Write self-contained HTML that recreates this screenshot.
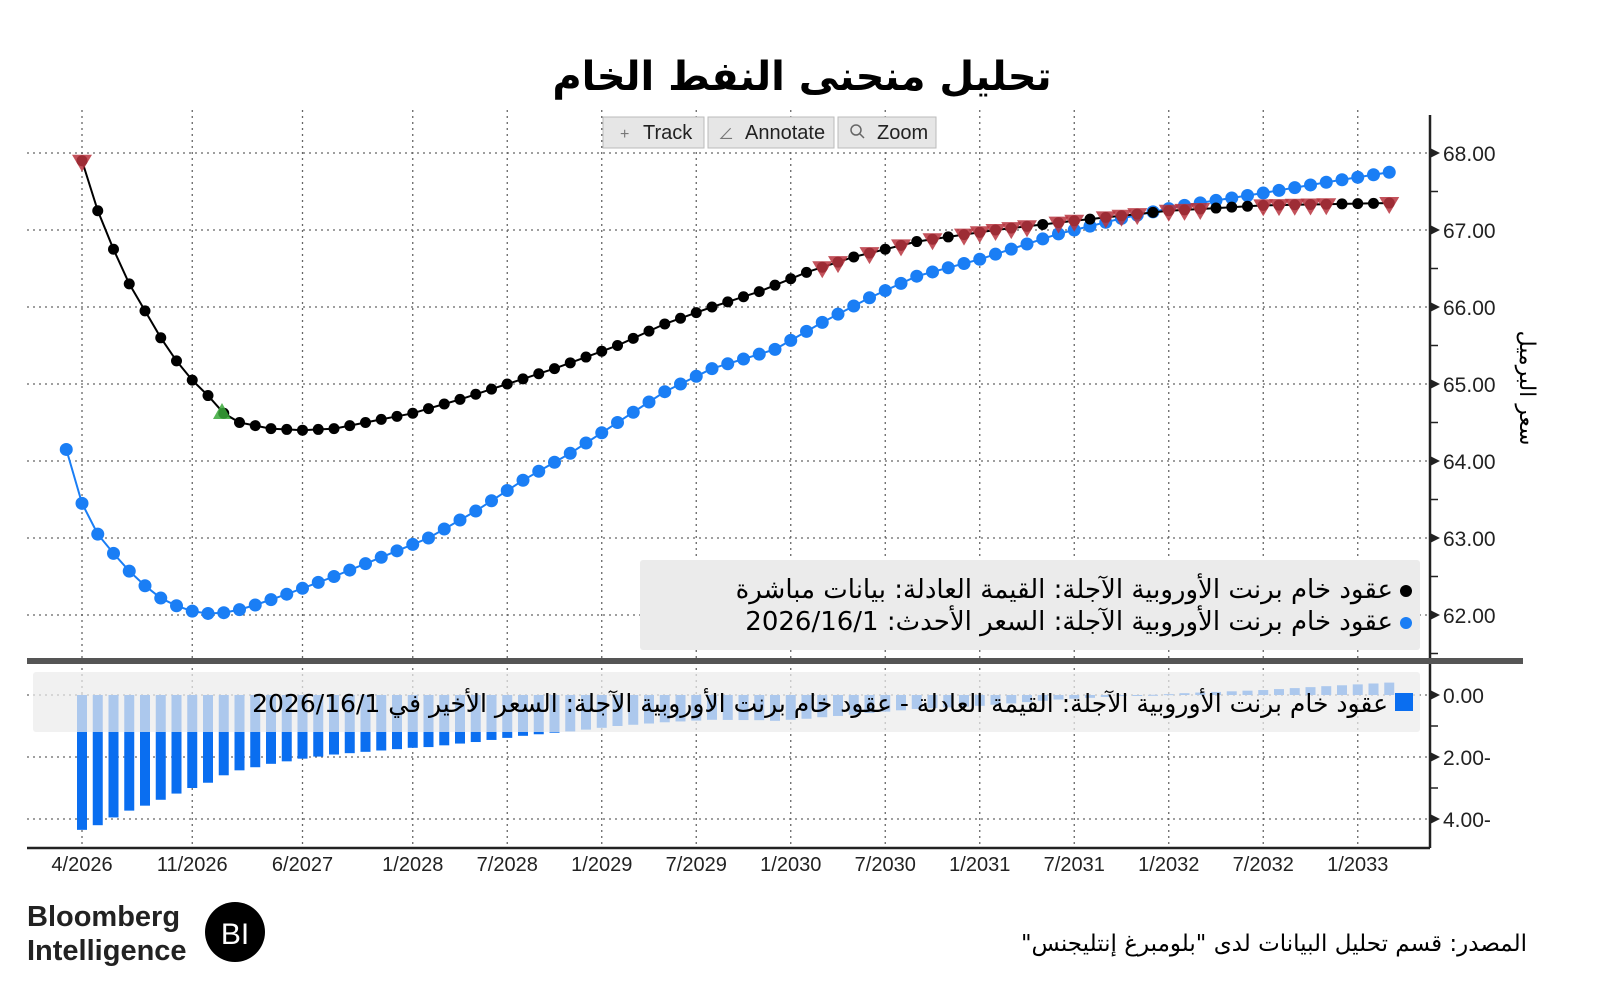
<!DOCTYPE html>
<html><head><meta charset="utf-8">
<style>
html,body{margin:0;padding:0;background:#fff;}
body{width:1600px;height:995px;overflow:hidden;}
svg text{font-family:"Liberation Sans","Noto Sans CJK SC",sans-serif;}
.ar{font-family:"DejaVu Sans","Noto Sans CJK SC",sans-serif;}
</style></head><body>
<svg id="s" width="1600" height="995" xmlns="http://www.w3.org/2000/svg">
<rect width="1600" height="995" fill="#fff"/>
<text x="802" y="90" text-anchor="middle" font-size="40" font-weight="bold" class="ar" direction="rtl">تحليل منحنى النفط الخام</text>
<g id="grid"></g>
<g id="bars"></g>
<!-- bottom legend -->
<rect x="33" y="672" width="1387" height="60" fill="#ebebeb" fill-opacity="0.72" rx="3"/>
<rect x="1395" y="693" width="18" height="18" fill="#0a6ef0"/>
<text x="1388" y="712" text-anchor="start" font-size="25" class="ar" direction="rtl">عقود خام برنت الأوروبية الآجلة: القيمة العادلة - عقود خام برنت الأوروبية الآجلة: السعر الأخير في 2026/16/1</text>
<g id="lines"></g>
<!-- top legend -->
<rect x="640" y="560" width="780" height="90" fill="#ebebeb" rx="3"/>
<circle cx="1406" cy="591" r="6" fill="#000"/>
<circle cx="1406" cy="623" r="6" fill="#1a7ef5"/>
<text x="1393" y="598" text-anchor="start" font-size="26" class="ar" direction="rtl">عقود خام برنت الأوروبية الآجلة: القيمة العادلة: بيانات مباشرة</text>
<text x="1393" y="630" text-anchor="start" font-size="26" class="ar" direction="rtl">عقود خام برنت الأوروبية الآجلة: السعر الأحدث: 2026/16/1</text>
<!-- toolbar -->
<g font-size="20" fill="#222">
<rect x="603" y="117" width="101" height="31" fill="#e6e6e6" stroke="#bbb"/>
<text x="620" y="139" font-size="16" fill="#777">+</text><text x="643" y="139">Track</text>
<rect x="708" y="117" width="126" height="31" fill="#e6e6e6" stroke="#bbb"/>
<text x="718" y="139" font-size="16" fill="#777">∠</text><text x="745" y="139">Annotate</text>
<rect x="838" y="117" width="98" height="31" fill="#e6e6e6" stroke="#bbb"/>
<circle cx="856" cy="130" r="5" fill="none" stroke="#666" stroke-width="1.5"/><line x1="860" y1="134" x2="864" y2="138" stroke="#666" stroke-width="1.5"/>
<text x="877" y="139">Zoom</text>
</g>
<!-- axes -->
<line x1="1430" y1="115" x2="1430" y2="848" stroke="#222" stroke-width="2.5"/>
<line x1="27" y1="848" x2="1430" y2="848" stroke="#222" stroke-width="2.5"/>
<rect x="27" y="658" width="1496" height="6" fill="#555"/>
<g id="ticks"></g>
<text transform="translate(1520,388) rotate(90)" text-anchor="middle" font-size="22" class="ar" direction="rtl">سعر البرميل</text>
<!-- footer -->
<text x="27" y="926" font-size="29" font-weight="bold" fill="#222">Bloomberg</text>
<text x="27" y="960" font-size="29" font-weight="bold" fill="#222">Intelligence</text>
<circle cx="235" cy="932" r="30" fill="#000"/>
<text x="235" y="944" text-anchor="middle" font-size="30" fill="#fff" font-family="Liberation Serif">BI</text>
<text x="1527" y="951" text-anchor="start" font-size="23" class="ar" direction="rtl">المصدر: قسم تحليل البيانات لدى "بلومبرغ إنتليجنس"</text>
</svg>
<script>
const NS="http://www.w3.org/2000/svg";
function el(p,t,a){const e=document.createElementNS(NS,t);for(const k in a)e.setAttribute(k,a[k]);document.getElementById(p).appendChild(e);return e;}
const X=m=>82+m*15.75, Y=v=>153+(68-v)*77, YB=v=>695-v*31;
const lab=[["4/2026",0],["11/2026",7],["6/2027",14],["1/2028",21],["7/2028",27],["1/2029",33],["7/2029",39],["1/2030",45],["7/2030",51],["1/2031",57],["7/2031",63],["1/2032",69],["7/2032",75],["1/2033",81]];
lab.forEach(([t,m])=>{const x=X(m);
 el("grid","line",{x1:x,y1:110,x2:x,y2:848,stroke:"#666","stroke-dasharray":"2 4","stroke-width":1.3});
 const tx=el("ticks","text",{x:x,y:871,"text-anchor":"middle","font-size":20,fill:"#222"});tx.textContent=t;});
for(let v=62;v<=68;v++){const y=Y(v);
 el("grid","line",{x1:27,y1:y,x2:1430,y2:y,stroke:"#666","stroke-dasharray":"2 4","stroke-width":1.3});
 el("ticks","path",{d:`M1430 ${y-5}L1440 ${y}L1430 ${y+5}Z`,fill:"#222"});
 const t=el("ticks","text",{x:1443,y:y+8,"font-size":21,fill:"#222"});t.textContent=v+".00";
 el("ticks","line",{x1:1430,y1:y+38.5,x2:1438,y2:y+38.5,stroke:"#222","stroke-width":1.5});}
[[0,"0.00"],[-2,"2.00-"],[-4,"4.00-"]].forEach(([v,s])=>{const y=YB(v);
 el("grid","line",{x1:27,y1:y,x2:1430,y2:y,stroke:"#666","stroke-dasharray":"2 4","stroke-width":1.3});
 el("ticks","path",{d:`M1430 ${y-5}L1440 ${y}L1430 ${y+5}Z`,fill:"#222"});
 const t=el("ticks","text",{x:1443,y:y+8,"font-size":21,fill:"#222"});t.textContent=s;
 if(v>-4)el("ticks","line",{x1:1430,y1:y+31,x2:1438,y2:y+31,stroke:"#222","stroke-width":1.5});});
function interp(k,m){for(let i=0;i<k.length-1;i++){if(m<=k[i+1][0]){const[a,va]=k[i],[b,vb]=k[i+1];return va+(vb-va)*(m-a)/(b-a);}}return k[k.length-1][1];}
const bk=[[0,67.9],[1,67.25],[2,66.75],[3,66.3],[4,65.95],[5,65.6],[6,65.3],[7,65.05],[8,64.85],[9,64.62],[10,64.5],[12,64.42],[14,64.4],[16,64.42],[18,64.5],[21,64.62],[24,64.8],[27,65.0],[30,65.2],[34,65.5],[37,65.78],[40,66.0],[43,66.2],[46,66.45],[49,66.65],[53,66.85],[58,67.0],[63,67.12],[69,67.25],[75,67.32],[83,67.35]];
const bl=[[-1,64.15],[0,63.45],[1,63.05],[2,62.8],[3,62.57],[4,62.38],[5,62.22],[6,62.12],[7,62.05],[8,62.02],[9,62.03],[10,62.07],[11,62.13],[13,62.27],[16,62.5],[19,62.75],[22,63.0],[25,63.35],[28,63.75],[31,64.1],[34,64.5],[37,64.9],[40,65.2],[44,65.45],[47,65.8],[50,66.12],[53,66.4],[57,66.62],[62,66.95],[66,67.15],[70,67.32],[75,67.48],[79,67.62],[83,67.75]];
for(let m=0;m<=83;m++){let v=-(interp(bk,m)-interp(bl,m));if(m==0)v=-4.35;
 const y0=YB(0),y1=YB(v);el("bars","rect",{x:X(m)-5,y:Math.min(y0,y1),width:10,height:Math.max(1,Math.abs(y1-y0)),fill:"#0a6ef0"});}
function series(k,start,col,r){let d="";const pts=[];for(let m=start;m<=83;m++){const x=X(m),y=Y(interp(k,m));pts.push([x,y]);d+=(d?"L":"M")+x.toFixed(1)+" "+y.toFixed(1);}
 el("lines","path",{d:d,fill:"none",stroke:col,"stroke-width":2});pts.forEach(p=>el("lines","circle",{cx:p[0],cy:p[1],r:r,fill:col}));}
series(bl,-1,"#1a7ef5",6.5);
series(bk,0,"#000",5.5);
function tri(x,y,c,up){const d=up?`M${x-9} ${y+7}L${x+9} ${y+7}L${x} ${y-9}Z`:`M${x-10} ${y-8}L${x+10} ${y-8}L${x} ${y+9}Z`;el("lines","path",{d:d,fill:c,"fill-opacity":0.85});}
[0,47,48,50,52,54,56,57,58,59,60,62,63,65,66,67,69,70,71,75,76,77,78,79,83].forEach(m=>tri(X(m),Y(interp(bk,m))+2,"#b8343e",false));
tri(222,412,"#3aa83a",true);
</script>
</body></html>
